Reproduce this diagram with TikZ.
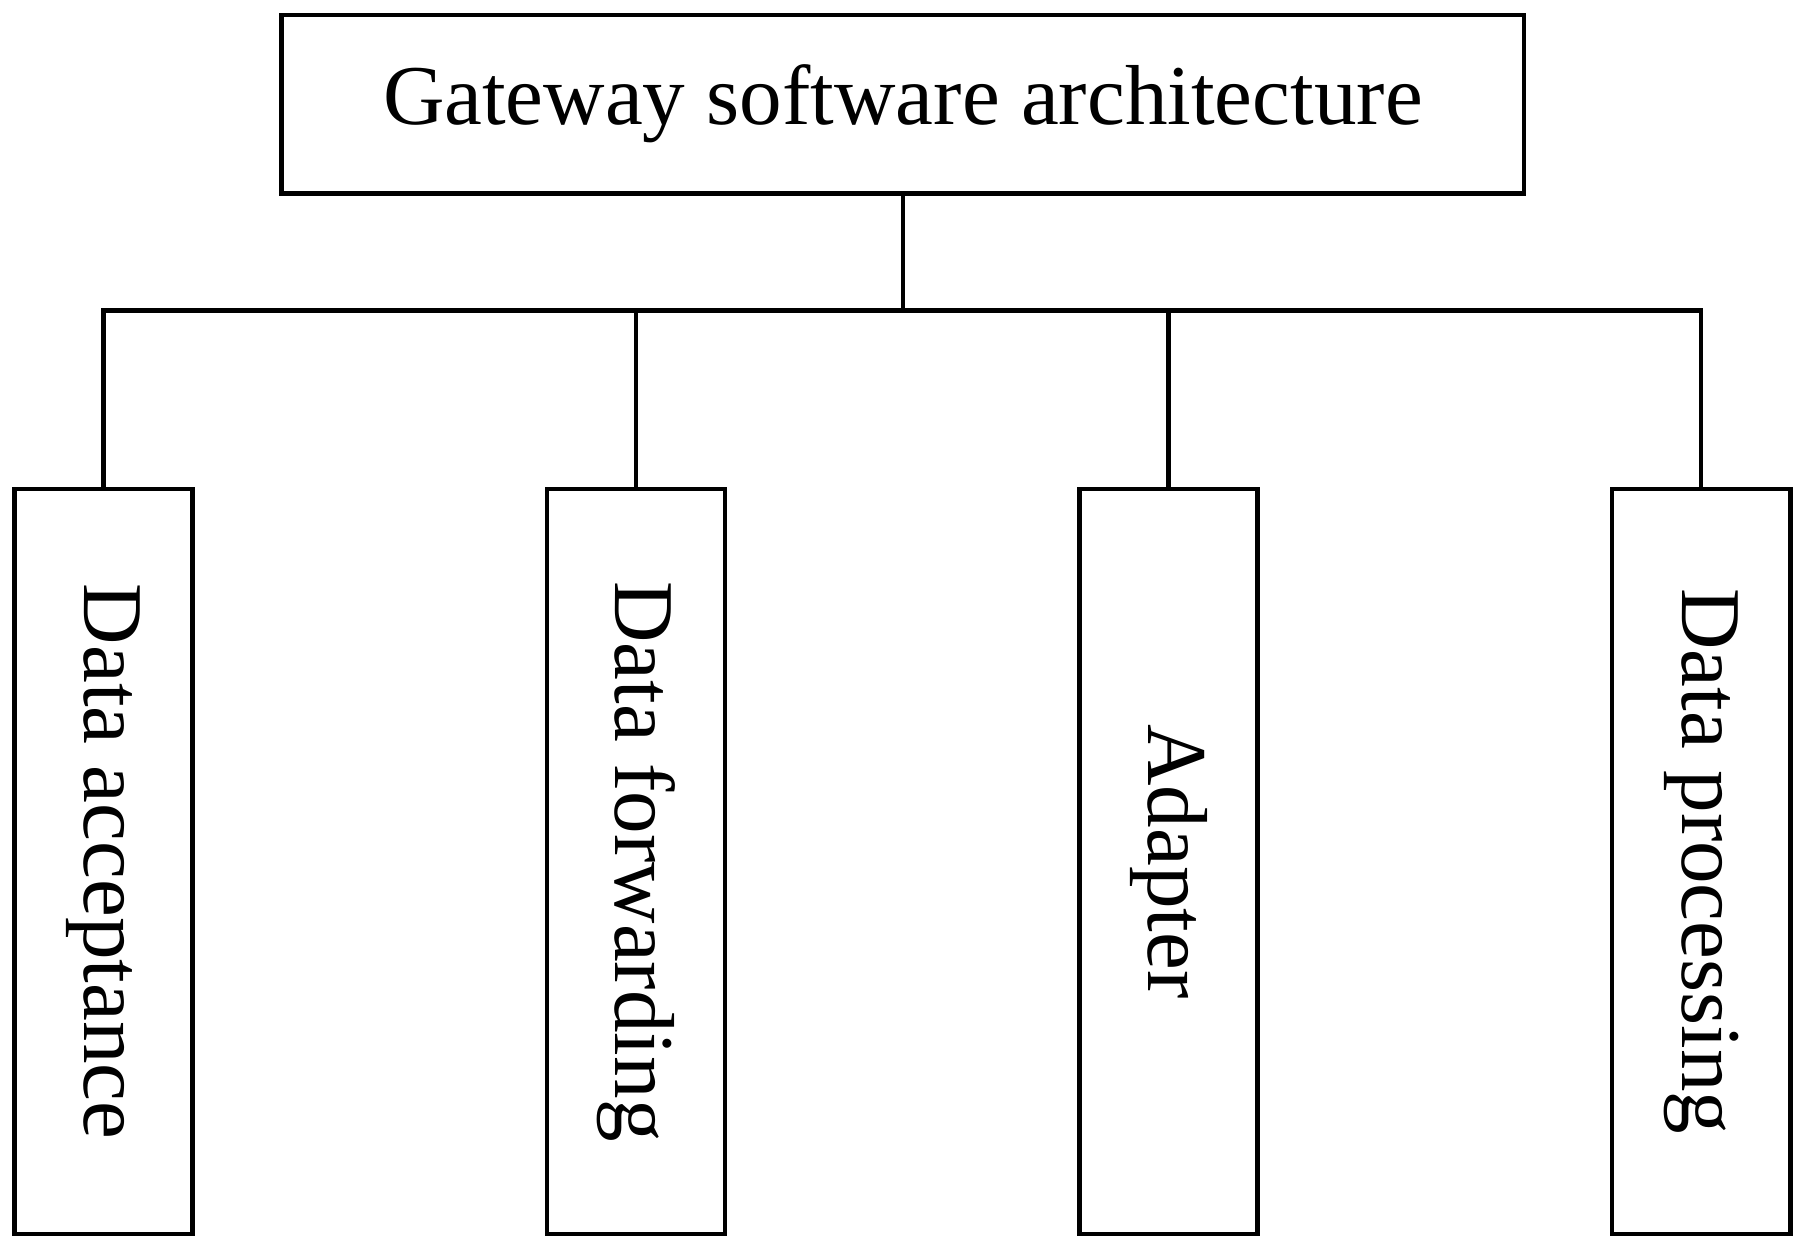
\documentclass[tikz,border=0pt]{standalone}
\usepackage{fontspec}
\setmainfont{Liberation Serif}
\begin{document}
\begin{tikzpicture}[x=0.5pt,y=-0.5pt,
  box/.style={draw,line width=2pt,inner sep=0pt},
  ln/.style={line width=2pt},
  lab/.style={font=\fontsize{37}{40}\selectfont}]
\useasboundingbox (0,0) rectangle (1565,1083);
\node[box,minimum width=540pt,minimum height=77.5pt,lab] (top) at (785,90.5) {Gateway software architecture};
\foreach \n/\x/\t in {a/90/Data acceptance,b/553/Data forwarding,c/1016/Adapter,d/1479/Data processing}{
  \node[box,minimum width=77.5pt,minimum height=324pt] (\n) at (\x,749) {};
  \node[lab,rotate=-90] at (\x,749) {\t};
}
\coordinate (j) at (785,270);
\draw[ln] (top.south) -- (j);
\draw[ln] (a.north) |- (j) -| (d.north);
\draw[ln] (b.north) -- (b.north |- j);
\draw[ln] (c.north) -- (c.north |- j);
\end{tikzpicture}
\end{document}
